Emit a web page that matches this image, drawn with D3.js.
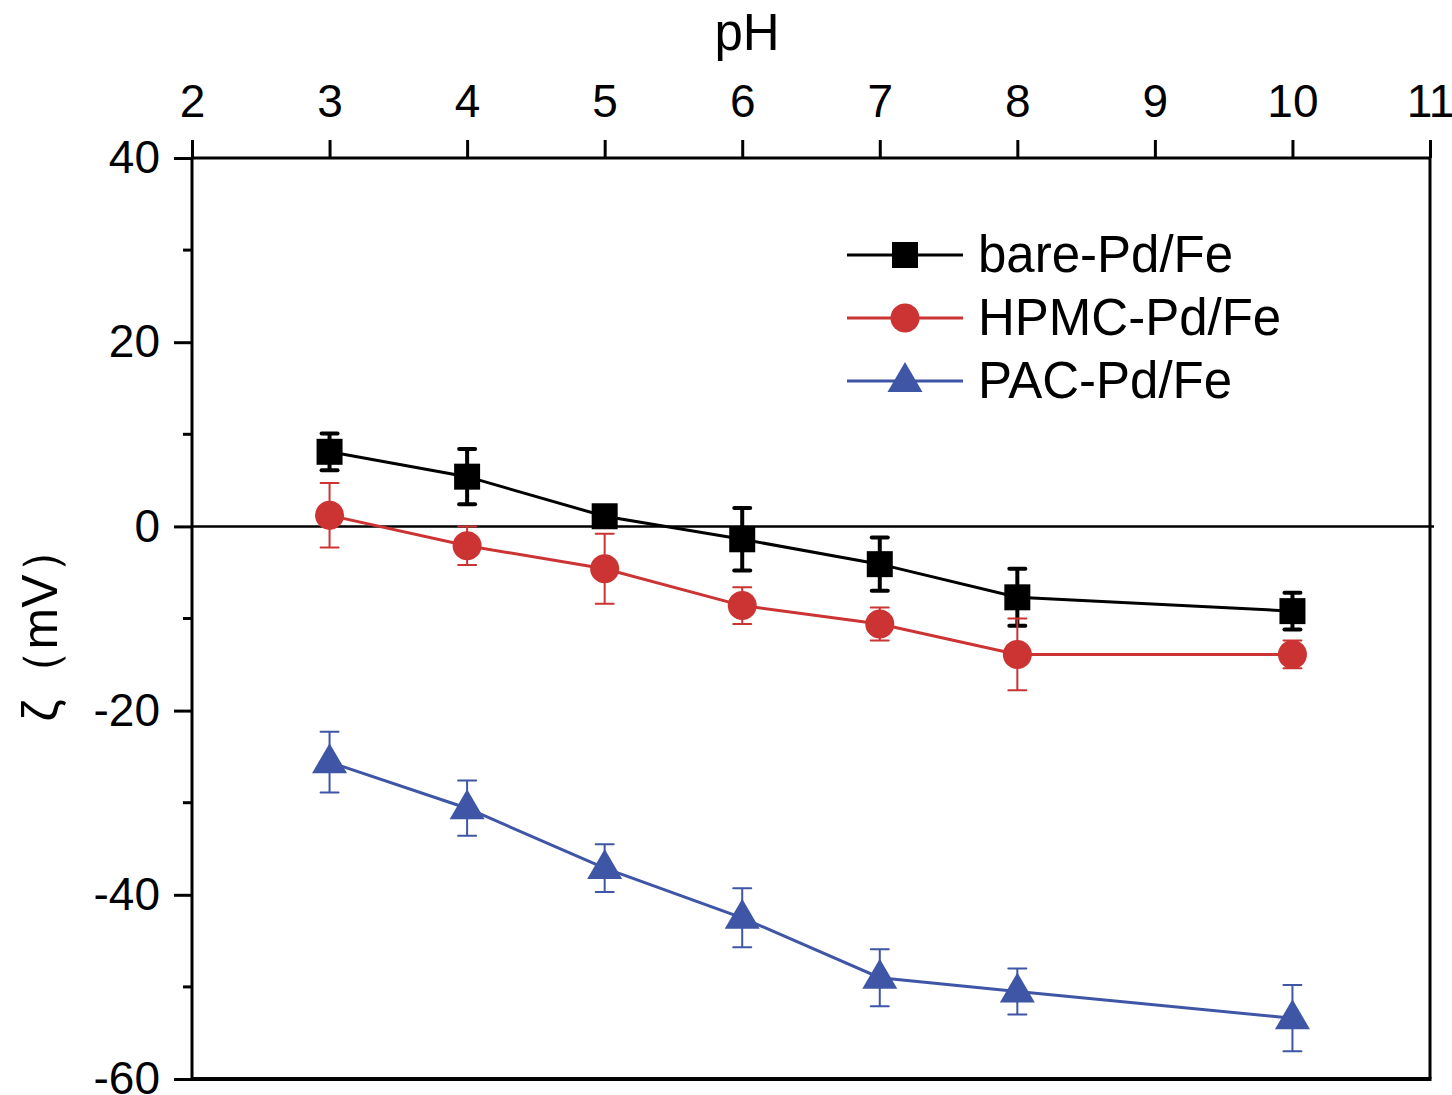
<!DOCTYPE html>
<html><head><meta charset="utf-8">
<script src="https://cdn.jsdelivr.net/npm/d3@7"></script>
<style>body{margin:0;background:#fff}svg{display:block}text{font-family:"Liberation Sans",Arial,sans-serif}</style>
</head><body>
<svg id="c" width="1452" height="1095"></svg>
<script>
const pH = [3, 4, 5, 6, 7, 8, 10];
const bareVals = [8.1, 5.4, 1.1, -1.4, -4.1, -7.7, -9.2];
const bareErr  = [2.0, 3.0, 0.5, 3.4, 2.9, 3.1, 2.0];
const hpmcVals = [1.2, -2.1, -4.6, -8.6, -10.6, -13.9, -13.9];
const hpmcErr  = [3.5, 2.1, 3.8, 2.0, 1.8, 3.9, 1.5];
const pacVals  = [-25.6, -30.6, -37.1, -42.5, -49.0, -50.5, -53.4];
const pacErr   = [3.3, 3.0, 2.6, 3.2, 3.1, 2.5, 3.6];
const xTicks = [2, 3, 4, 5, 6, 7, 8, 9, 10, 11];
const yTicks = [40, 20, 0, -20, -40, -60];
const yMinor = [30, 10, -10, -30, -50];
const seriesNames = ["bare-Pd/Fe", "HPMC-Pd/Fe", "PAC-Pd/Fe"];

const svg = d3.select("#c");
const L = 192, R = 1430, T = 158, B = 1079;
const x = d3.scaleLinear().domain([2, 11]).range([L, R]);
const y = d3.scaleLinear().domain([-60, 40]).range([B, T]);

const series = [
  {name: seriesNames[0], vals: bareVals, err: bareErr, color: "#000000", sym: "square", ew: 4, cap: 16},
  {name: seriesNames[1], vals: hpmcVals, err: hpmcErr, color: "#cc3333", sym: "circle", ew: 2, cap: 18},
  {name: seriesNames[2], vals: pacVals, err: pacErr, color: "#3f55a5", sym: "triangle", ew: 2, cap: 18}
];

// frame right & bottom
svg.append("line").attr("x1", R).attr("x2", R).attr("y1", T).attr("y2", B).attr("stroke", "#000").attr("stroke-width", 3);
svg.append("line").attr("x1", L).attr("x2", R + 1.5).attr("y1", B).attr("y2", B).attr("stroke", "#000").attr("stroke-width", 4);

// top axis
const gx = svg.append("g").attr("transform", `translate(0,${T})`)
  .call(d3.axisTop(x).tickValues(xTicks).tickSize(18).tickPadding(23).tickFormat(d => String(d)));
gx.select(".domain").attr("stroke-width", 3).attr("d", `M${L},0H${R}`);
gx.selectAll(".tick line").attr("stroke-width", 3);
gx.selectAll(".tick text").attr("font-size", 46).attr("fill", "#000").attr("font-family", "'Liberation Sans',Arial,sans-serif");

// left axis
const gy = svg.append("g").attr("transform", `translate(${L},0)`)
  .call(d3.axisLeft(y).tickValues(yTicks).tickSize(18).tickPadding(14).tickFormat(d => String(d)));
gy.select(".domain").attr("stroke-width", 3).attr("d", `M0,${T}V${B}`);
gy.selectAll(".tick line").attr("stroke-width", 3);
gy.selectAll(".tick text").attr("font-size", 46).attr("fill", "#000").attr("font-family", "'Liberation Sans',Arial,sans-serif");
svg.append("g").selectAll("line").data(yMinor).join("line")
  .attr("x1", L - 9).attr("x2", L).attr("y1", d => y(d)).attr("y2", d => y(d))
  .attr("stroke", "#000").attr("stroke-width", 3);

// zero line
svg.append("line").attr("x1", L).attr("x2", R + 4).attr("y1", y(0)).attr("y2", y(0))
  .attr("stroke", "#000").attr("stroke-width", 2.5);

// titles
svg.append("text").attr("x", 747).attr("y", 50).attr("text-anchor", "middle")
  .attr("font-size", 51).text("pH");
svg.append("text").attr("transform", `translate(57,${623}) rotate(-90)`).attr("text-anchor", "middle")
  .attr("font-size", 50).text("ζ（mV）");

function symPath(sym) {
  if (sym === "square") return d3.symbol(d3.symbolSquare, 26 * 26)();
  if (sym === "circle") return d3.symbol(d3.symbolCircle, Math.PI * 14.5 * 14.5)();
  return "M0,-19L17.5,11L-17.5,11Z";
}

const line = d3.line().x(d => x(d[0])).y(d => y(d[1]));
series.forEach(s => {
  const pts = pH.map((p, i) => [p, s.vals[i], s.err[i]]);
  const g = svg.append("g");
  g.append("path").attr("d", line(pts)).attr("fill", "none").attr("stroke", s.color).attr("stroke-width", 3);
  pts.forEach(d => {
    const cx = x(d[0]), yt = y(d[1] + d[2]), yb = y(d[1] - d[2]);
    g.append("line").attr("x1", cx).attr("x2", cx).attr("y1", yt).attr("y2", yb).attr("stroke", s.color).attr("stroke-width", s.ew);
    [yt, yb].forEach(yy => g.append("line").attr("x1", cx - s.cap / 2).attr("x2", cx + s.cap / 2)
      .attr("y1", yy).attr("y2", yy).attr("stroke", s.color).attr("stroke-width", s.ew).attr("stroke-linecap", "round"));
    g.append("path").attr("d", symPath(s.sym)).attr("transform", `translate(${cx},${y(d[1])})`).attr("fill", s.color);
  });
});

// legend
const lg = svg.append("g");
series.forEach((s, i) => {
  const yy = 255 + i * 63;
  lg.append("line").attr("x1", 847).attr("x2", 963).attr("y1", yy).attr("y2", yy).attr("stroke", s.color).attr("stroke-width", 3);
  lg.append("path").attr("d", symPath(s.sym)).attr("transform", `translate(905,${yy})`).attr("fill", s.color);
  lg.append("text").attr("x", 978).attr("y", yy + 17).attr("font-size", 51).text(s.name);
});
</script>
</body></html>
